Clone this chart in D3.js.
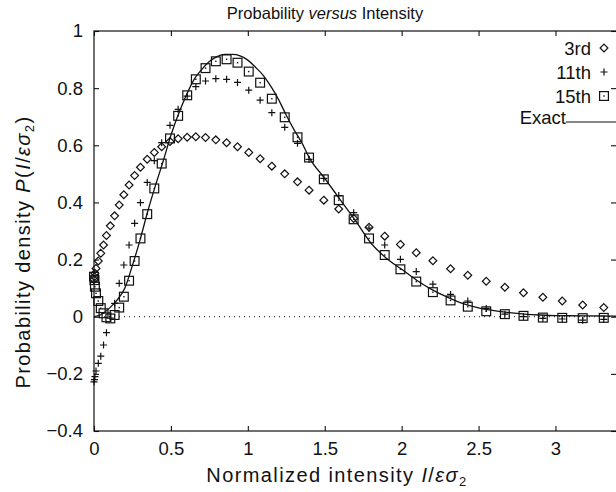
<!DOCTYPE html>
<html><head><meta charset="utf-8">
<script src="https://cdn.jsdelivr.net/npm/d3@7"></script>
<style>
body{margin:0;background:#fff;}
svg{display:block;font-family:"Liberation Sans",Arial,Helvetica,sans-serif;}
</style></head><body>
<svg id="c" width="616" height="492"></svg>
<script>
// ---- data ----
const xGrid = [0, 0.003, 0.006, 0.013, 0.028, 0.044, 0.062, 0.081, 0.106, 0.134, 0.164, 0.194, 0.228, 0.264, 0.302, 0.346, 0.392, 0.44, 0.494, 0.547, 0.606, 0.662, 0.725, 0.792, 0.862, 0.933, 1.006, 1.08, 1.156, 1.24, 1.323, 1.398, 1.494, 1.591, 1.688, 1.788, 1.89, 1.992, 2.095, 2.203, 2.318, 2.43, 2.55, 2.671, 2.792, 2.918, 3.044, 3.177, 3.314];
const third = [0.13, 0.14, 0.152, 0.169, 0.195, 0.222, 0.251, 0.284, 0.318, 0.353, 0.391, 0.427, 0.461, 0.494, 0.523, 0.551, 0.575, 0.595, 0.613, 0.623, 0.628, 0.63, 0.627, 0.619, 0.609, 0.595, 0.575, 0.553, 0.527, 0.5, 0.472, 0.443, 0.408, 0.377, 0.344, 0.313, 0.282, 0.253, 0.224, 0.196, 0.168, 0.145, 0.124, 0.103, 0.084, 0.068, 0.055, 0.041, 0.032];
const eleventh = [-0.228, -0.22, -0.21, -0.19, -0.163, -0.138, -0.099, -0.056, -0.005, 0.047, 0.117, 0.181, 0.251, 0.327, 0.399, 0.47, 0.546, 0.609, 0.67, 0.726, 0.772, 0.805, 0.825, 0.833, 0.831, 0.82, 0.793, 0.758, 0.714, 0.663, 0.607, 0.551, 0.484, 0.424, 0.364, 0.31, 0.251, 0.201, 0.158, 0.114, 0.078, 0.055, 0.029, 0.009, 0.0, -0.006, -0.008, -0.012, -0.009];
const fifteenth = [0.14, 0.128, 0.105, 0.082, 0.055, 0.03, 0.012, -0.002, -0.006, 0.006, 0.032, 0.07, 0.126, 0.195, 0.274, 0.359, 0.449, 0.536, 0.624, 0.703, 0.775, 0.831, 0.87, 0.894, 0.901, 0.889, 0.858, 0.819, 0.763, 0.698, 0.628, 0.557, 0.481, 0.408, 0.341, 0.274, 0.216, 0.166, 0.123, 0.086, 0.057, 0.035, 0.019, 0.009, 0.003, -0.003, -0.004, -0.005, -0.004];
const exactX = [0, 0.03, 0.06, 0.1, 0.15, 0.2, 0.25, 0.3, 0.35, 0.4, 0.45, 0.5, 0.55, 0.6, 0.65, 0.7, 0.75, 0.8, 0.85, 0.9, 0.95, 1.0, 1.05, 1.1, 1.15, 1.2, 1.25, 1.3, 1.35, 1.4, 1.5, 1.6, 1.7, 1.8, 1.9, 2.0, 2.1, 2.2, 2.3, 2.4, 2.5, 2.6, 2.7, 2.8, 2.9, 3.0, 3.2, 3.4];
const exactY = [0, 0.004, 0.012, 0.03, 0.058, 0.1, 0.18, 0.27, 0.37, 0.46, 0.545, 0.635, 0.71, 0.775, 0.83, 0.865, 0.893, 0.91, 0.918, 0.918, 0.913, 0.898, 0.873, 0.845, 0.806, 0.76, 0.705, 0.655, 0.61, 0.556, 0.484, 0.41, 0.336, 0.258, 0.205, 0.166, 0.127, 0.094, 0.068, 0.046, 0.031, 0.021, 0.014, 0.009, 0.006, 0.004, 0.003, 0.002];
const xTicks = [0, 0.5, 1, 1.5, 2, 2.5, 3];
const yTicks = [-0.4, -0.2, 0, 0.2, 0.4, 0.6, 0.8, 1];
const legendLabels = ["3rd", "11th", "15th", "Exact"];

// ---- drawing ----
const svg = d3.select("#c");
const x = d3.scaleLinear().domain([0, 3.4]).range([94, 617]);
const y = d3.scaleLinear().domain([-0.4, 1]).range([431, 31]);
const ink = "#111";
const fmt = d3.format("");

// frame
svg.append("rect").attr("x", x(0)).attr("y", y(1)).attr("width", x(3.4) - x(0)).attr("height", y(-0.4) - y(1))
  .attr("fill", "none").attr("stroke", ink).attr("stroke-width", 1.2);

// axes (ticks inside)
const tl = 5;
const axB = svg.append("g").attr("transform", `translate(0,${y(-0.4)})`)
  .call(d3.axisBottom(x).tickValues(xTicks).tickSize(-tl).tickPadding(tl + 6).tickFormat(fmt));
const axT = svg.append("g").attr("transform", `translate(0,${y(1)})`)
  .call(d3.axisTop(x).tickValues(xTicks).tickSize(-tl).tickFormat(""));
const axL = svg.append("g").attr("transform", `translate(${x(0)},0)`)
  .call(d3.axisLeft(y).tickValues(yTicks).tickSize(-tl).tickPadding(tl + 6).tickFormat(fmt));
const axR = svg.append("g").attr("transform", `translate(${x(3.4) - 1},0)`)
  .call(d3.axisRight(y).tickValues(yTicks).tickSize(-tl).tickFormat(""));
[axB, axT, axL, axR].forEach(g => {
  g.select(".domain").remove();
  g.selectAll(".tick line").attr("stroke", ink).attr("stroke-width", 1.1);
  g.selectAll("text").attr("fill", ink).attr("font-size", 18.5).attr("font-family", "Liberation Sans, Arial, sans-serif");
});

// zero dotted line
svg.append("line").attr("x1", x(0)).attr("x2", x(3.4)).attr("y1", y(0)).attr("y2", y(0))
  .attr("stroke", ink).attr("stroke-width", 1).attr("stroke-dasharray", "1,4");

// exact curve
const exact = exactX.map((v, i) => [v, exactY[i]]);
svg.append("path").datum(exact)
  .attr("d", d3.line().x(d => x(d[0])).y(d => y(d[1])).curve(d3.curveMonotoneX))
  .attr("fill", "none").attr("stroke", ink).attr("stroke-width", 1.3);

// marker shapes
function diamond(g, cx, cy) {
  const r = 3.9;
  g.append("path").attr("d", `M${cx},${cy - r}L${cx + r},${cy}L${cx},${cy + r}L${cx - r},${cy}Z`)
    .attr("fill", "none").attr("stroke", ink).attr("stroke-width", 1.2);
}
function plus(g, cx, cy) {
  const r = 3.5;
  g.append("path").attr("d", `M${cx - r},${cy}H${cx + r}M${cx},${cy - r}V${cy + r}`)
    .attr("fill", "none").attr("stroke", ink).attr("stroke-width", 1.2);
}
function square(g, cx, cy) {
  const r = 4.4;
  g.append("rect").attr("x", cx - r).attr("y", cy - r).attr("width", 2 * r).attr("height", 2 * r)
    .attr("fill", "none").attr("stroke", ink).attr("stroke-width", 1.2);
  g.append("rect").attr("x", cx - 0.7).attr("y", cy - 0.7).attr("width", 1.4).attr("height", 1.4).attr("fill", ink);
}

const gm = svg.append("g");
xGrid.forEach((v, i) => diamond(gm, x(v), y(third[i])));
xGrid.forEach((v, i) => plus(gm, x(v), y(eleventh[i])));
xGrid.forEach((v, i) => square(gm, x(v), y(fifteenth[i])));

// legend
const lg = svg.append("g").attr("font-size", 18.5).attr("fill", ink);
const lgY = [48, 72, 96];
const shapes = [diamond, plus, square];
for (let i = 0; i < 3; i++) {
  lg.append("text").attr("x", 591).attr("y", lgY[i] + 6.5).attr("text-anchor", "end").text(legendLabels[i]);
  shapes[i](lg, 604, lgY[i]);
}
lg.append("text").attr("x", 566).attr("y", 124).attr("text-anchor", "end").text(legendLabels[3]);
lg.append("line").attr("x1", 566).attr("x2", 616).attr("y1", 122).attr("y2", 122).attr("stroke", ink).attr("stroke-width", 1.2);

// title
const title = svg.append("text").attr("x", 325).attr("y", 19).attr("text-anchor", "middle").attr("font-size", 16.5).attr("fill", ink);
title.append("tspan").text("Probability ");
title.append("tspan").attr("font-style", "italic").text("versus");
title.append("tspan").text(" Intensity");

// x axis title
const xt = svg.append("text").attr("x", 337).attr("y", 482).attr("text-anchor", "middle")
  .attr("font-size", 20).attr("letter-spacing", 1.4).attr("fill", ink);
xt.append("tspan").text("Normalized intensity ");
xt.append("tspan").attr("font-style", "italic").text("I");
xt.append("tspan").text("/");
xt.append("tspan").attr("font-style", "italic").text("εσ");
xt.append("tspan").attr("font-size", 13).attr("dy", 4).text("2");

// y axis title
const yt = svg.append("text").attr("transform", "translate(30,252) rotate(-90)").attr("text-anchor", "middle")
  .attr("font-size", 20).attr("letter-spacing", 1.4).attr("fill", ink);
yt.append("tspan").text("Probability density ");
yt.append("tspan").attr("font-style", "italic").text("P");
yt.append("tspan").text("(");
yt.append("tspan").attr("font-style", "italic").text("I");
yt.append("tspan").text("/");
yt.append("tspan").attr("font-style", "italic").text("εσ");
yt.append("tspan").attr("font-size", 13).attr("dy", 4).text("2");
yt.append("tspan").attr("dy", -4).text(")");
</script>
</body></html>
